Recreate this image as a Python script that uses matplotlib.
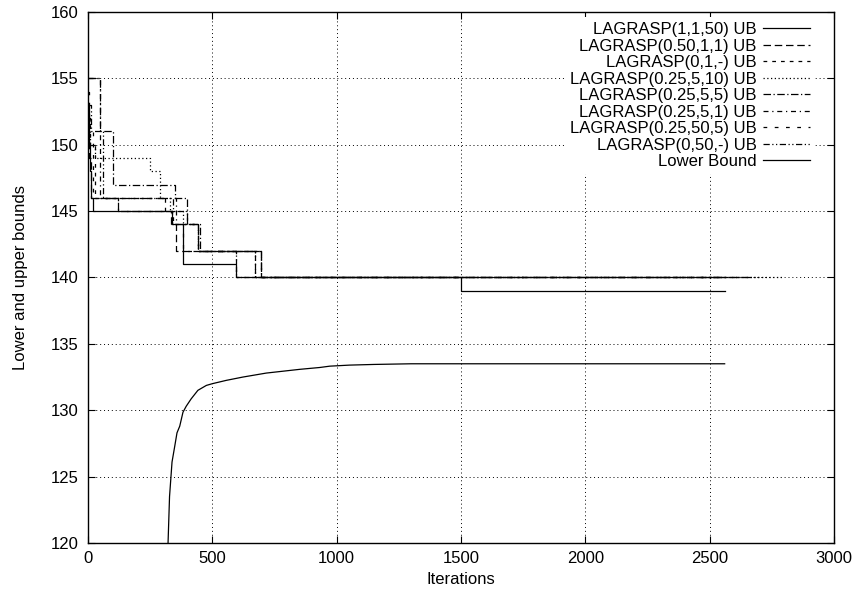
import matplotlib
matplotlib.use('Agg')
import matplotlib.pyplot as plt
import numpy as np

plt.rcParams['font.family'] = ['Liberation Sans', 'DejaVu Sans']
plt.rcParams['font.size'] = 12

# upper bound step series (iteration where value changes, value)
ub1_x = [0, 4, 9, 14, 20, 339, 382, 594, 1500, 2560]
ub1_y = [153, 150, 148, 146, 145, 144, 141, 140, 139, 139]

ub2_x = [0, 6, 13, 121, 335, 355, 449, 697, 2650]
ub2_y = [151, 149, 146, 145, 144, 142, 142, 140, 140]

ub3_x = [0, 8, 30, 309, 342, 442, 594, 2560]
ub3_y = [152, 150, 146, 145, 144, 142, 140, 140]

ub4_x = [0, 10, 27, 249, 289, 330, 382, 442, 594, 2800]
ub4_y = [152, 150, 149, 148, 146, 145, 144, 142, 140, 140]

ub5_x = [0, 47, 101, 350, 399, 449, 697, 2560]
ub5_y = [155, 151, 147, 146, 144, 142, 140, 140]

ub6_x = [0, 48, 355, 442, 671, 2560]
ub6_y = [155, 146, 144, 142, 140, 140]

ub7_x = [0, 5, 20, 121, 339, 382, 449, 697, 2650]
ub7_y = [154, 151, 146, 145, 144, 142, 142, 140, 140]

ub8_x = [0, 12, 60, 340, 399, 442, 671, 2700]
ub8_y = [153, 151, 146, 145, 144, 142, 140, 140]

lb_x = [322, 328, 338, 349, 358, 369, 382, 395, 415, 442, 476, 500, 556,
        623, 717, 851, 932, 972, 1052, 1150, 1300, 1600, 2000, 2560]
lb_y = [120, 123.5, 126.1, 127.3, 128.3, 128.8, 129.85, 130.3, 130.86,
        131.5, 131.87, 132.0, 132.25, 132.5, 132.8, 133.08, 133.22, 133.32,
        133.4, 133.45, 133.5, 133.5, 133.5, 133.5]

labels = ['LAGRASP(1,1,50) UB', 'LAGRASP(0.50,1,1) UB', 'LAGRASP(0,1,-) UB',
          'LAGRASP(0.25,5,10) UB', 'LAGRASP(0.25,5,5) UB', 'LAGRASP(0.25,5,1) UB',
          'LAGRASP(0.25,50,5) UB', 'LAGRASP(0,50,-) UB', 'Lower Bound']

series = [(ub1_x, ub1_y), (ub2_x, ub2_y), (ub3_x, ub3_y), (ub4_x, ub4_y),
          (ub5_x, ub5_y), (ub6_x, ub6_y), (ub7_x, ub7_y), (ub8_x, ub8_y)]

styles = ['-', (0, (6, 3)), (0, (3, 4)), (0, (1, 2)), (0, (6, 2, 1, 2)),
          (0, (4, 3, 1, 3)), (0, (3, 6)), (0, (5, 2, 1, 2, 1, 2))]

fig = plt.figure(figsize=(8.59, 5.99), dpi=100)
ax = fig.add_axes([0.1024, 0.0935, 0.8686, 0.8865])

for (xs, ys), ls, lab in zip(series, styles, labels):
    ax.plot(xs, ys, color='black', linestyle=ls, linewidth=0.9,
            drawstyle='steps-post', label=lab)
ax.plot(lb_x, lb_y, color='black', linewidth=0.9, label=labels[-1])

ax.set_xlim(0, 3000)
ax.set_ylim(120, 160)
ax.set_xticks(np.arange(0, 3001, 500))
ax.set_yticks(np.arange(120, 161, 5))
ax.grid(True, color='black', linestyle=(0, (1, 3)), linewidth=0.7)
ax.tick_params(direction='in', top=True, right=True, length=5, width=0.8)
ax.tick_params(axis='x', pad=6)
ax.tick_params(axis='y', pad=6.5)
for s in ax.spines.values():
    s.set_linewidth(1.0)

ax.set_xlabel('Iterations', labelpad=4)
ax.set_ylabel('Lower and upper bounds')
ax.yaxis.set_label_coords(-0.080, 0.5)

leg = ax.legend(loc='upper right', bbox_to_anchor=(0.9745, 0.990),
                markerfirst=False, frameon=True, fontsize=12,
                handlelength=2.8, handletextpad=0.4, labelspacing=0.09,
                borderaxespad=0, borderpad=0.3)
leg.get_frame().set_edgecolor('none')
leg.get_frame().set_facecolor('white')
leg.get_frame().set_alpha(1)
for t in leg.get_texts():
    t.set_ha('right')
leg._legend_box.align = 'right'

fig.savefig('out.png', dpi=100)
